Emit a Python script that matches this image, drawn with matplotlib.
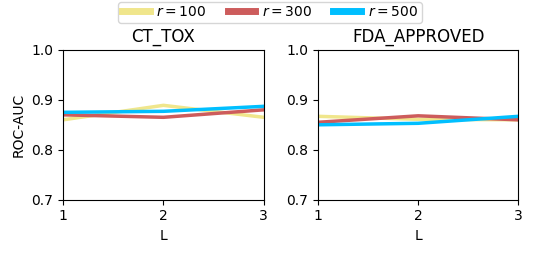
import matplotlib
matplotlib.use('Agg')
import matplotlib.pyplot as plt

L = [1, 2, 3]
radii = [100, 300, 500]
colors = ['khaki', 'indianred', 'deepskyblue']

ct_tox = {
    100: [0.860, 0.889, 0.865],
    300: [0.870, 0.865, 0.880],
    500: [0.875, 0.877, 0.887],
}
fda_approved = {
    100: [0.867, 0.861, 0.860],
    300: [0.855, 0.868, 0.860],
    500: [0.850, 0.853, 0.867],
}


def main():
    fig, axes = plt.subplots(1, 2, figsize=(5.4, 2.56), dpi=100)
    for ax, title, data in zip(axes, ['CT_TOX', 'FDA_APPROVED'], [ct_tox, fda_approved]):
        for r, c in zip(radii, colors):
            ax.plot(L, data[r], color=c, linewidth=2.5, label='$r = %d$' % r)
        ax.set_title(title)
        ax.set_xlim(1, 3)
        ax.set_ylim(0.7, 1.0)
        ax.set_xticks(L)
        ax.set_yticks([0.7, 0.8, 0.9, 1.0])
        ax.set_xlabel('L')
    axes[0].set_ylabel('ROC-AUC')

    handles, labels = axes[0].get_legend_handles_labels()
    leg = fig.legend(handles, labels, loc='upper center', ncol=3,
                     bbox_to_anchor=(0.5, 1.02), handlelength=2.0, columnspacing=1.5,
                     handletextpad=0.5, fontsize=10, borderpad=0.25, frameon=True)
    for h in leg.get_lines():
        h.set_linewidth(5)

    fig.subplots_adjust(left=0.117, right=0.96, top=0.805, bottom=0.22, wspace=0.27)
    fig.savefig('out.png')


if __name__ == '__main__':
    main()
